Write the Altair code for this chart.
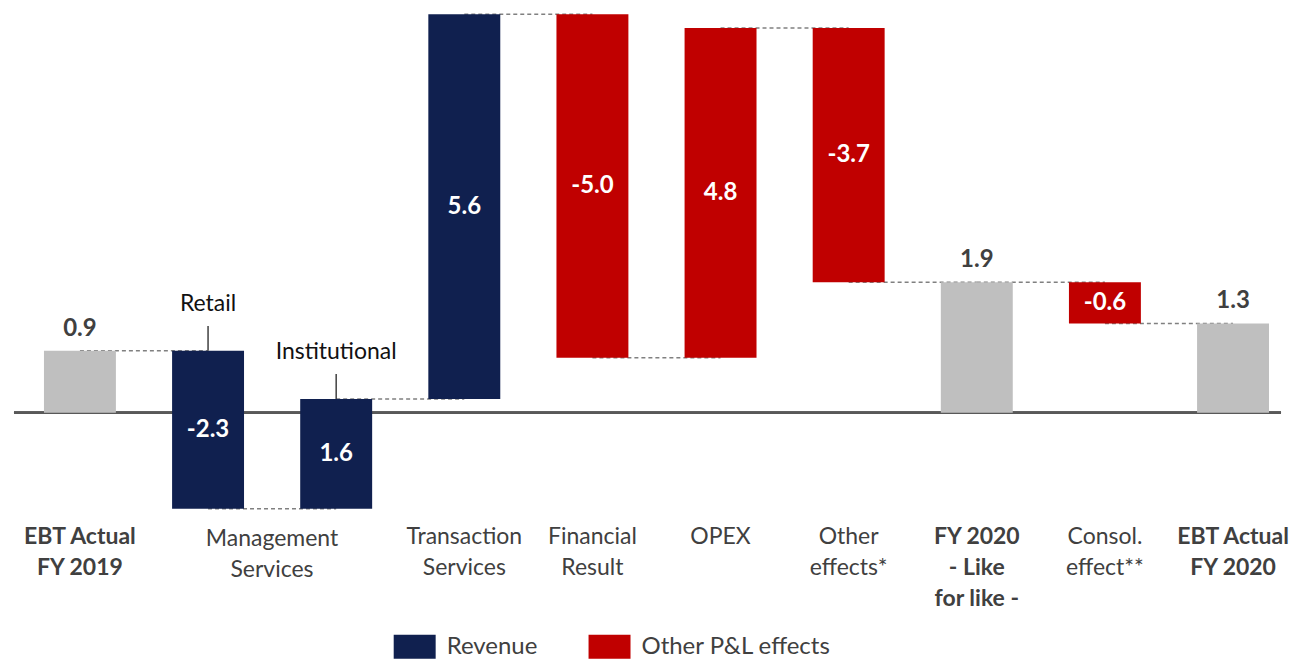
import altair as alt
import pandas as pd

categories = ["EBT Actual FY 2019", "Retail", "Institutional", "Transaction Services",
              "Financial Result", "OPEX", "Other effects*", "FY 2020 - Like for like -",
              "Consol. effect**", "EBT Actual FY 2020"]
values = [0.9, -2.3, 1.6, 5.6, -5.0, 4.8, -3.7, 1.9, -0.6, 1.3]
groups = ["Total", "Revenue", "Revenue", "Revenue", "Other P&L effects",
          "Other P&L effects", "Other P&L effects", "Total", "Other P&L effects", "Total"]
cat_labels = ["EBT Actual\nFY 2019", "", "", "Transaction\nServices", "Financial\nResult",
              "OPEX", "Other\neffects*", "FY 2020\n- Like\nfor like -", "Consol.\neffect**",
              "EBT Actual\nFY 2020"]
group_label_cat = ["Retail"]
group_label_text = ["Management\nServices"]
annot_cats = ["Retail", "Institutional"]
annot_texts = ["Retail", "Institutional"]
legend_groups = ["Revenue", "Other P&L effects"]
legend_colors = ["#10204F", "#C00000"]
total_color = "#BFBFBF"

FONT = "Lato"

# waterfall table
rows = []
level = 0.0
for c, v, g, t in zip(categories, values, groups, cat_labels):
    if g == "Total":
        s, e = 0.0, v
    else:
        s, e = level, level + v
    level = e
    rows.append(dict(cat=c, value=v, group=g, start=round(s, 3), end=round(e, 3),
                     mid=round((s + e) / 2, 3), top=round(max(s, e), 3),
                     label=f"{v:.1f}", total=bool(g == "Total"), catlabel=t))
df = pd.DataFrame(rows)
ymin = float(df["end"].min())
ymax = float(df[["start", "end"]].max().max())
df["bottom"] = ymin
df["zero"] = 0.0
totals = df[df.total].reset_index(drop=True)
deltas = df[~df.total].reset_index(drop=True)

conn = pd.DataFrame([dict(cat=categories[i], nxt=categories[i + 1], level=float(rows[i]["end"]))
                     for i in range(len(categories) - 1)])

ann = pd.DataFrame(dict(cat=annot_cats, text=annot_texts))
ann["top"] = [float(df.loc[df.cat == c, "top"].iloc[0]) for c in annot_cats]

grp = pd.DataFrame(dict(cat=group_label_cat, text=group_label_text))
grp["bottom"] = ymin

xscale = alt.Scale(domain=categories, paddingInner=0.4385, paddingOuter=0.1638, align=0.714)
yscale = alt.Scale(domain=[ymin, ymax], nice=False, zero=False)

X = alt.X("cat:N", scale=xscale, axis=None)

zero = alt.Chart(df).mark_rule(color="#595959", strokeWidth=2).encode(
    y=alt.Y("zero:Q", scale=yscale, axis=None)
)

connectors = alt.Chart(conn).mark_rule(color="#808080", strokeWidth=1.5, strokeDash=[4, 3]).encode(
    x=X,
    x2="nxt",
    y=alt.Y("level:Q", scale=yscale, axis=None),
)

total_bars = alt.Chart(totals).mark_bar(color=total_color).encode(
    x=X,
    y=alt.Y("start:Q", scale=yscale, axis=None),
    y2="end",
)

delta_bars = alt.Chart(deltas).mark_bar().encode(
    x=X,
    y=alt.Y("start:Q", scale=yscale, axis=None),
    y2="end",
    color=alt.Color(
        "group:N",
        scale=alt.Scale(domain=legend_groups, range=legend_colors),
        legend=alt.Legend(
            orient="none", legendX=388, legendY=620, direction="horizontal", title=None,
            symbolType="M-1.75,-1L1.75,-1L1.75,1L-1.75,1Z", symbolSize=576,
            labelOffset=19, columnPadding=51, labelLimit=400,
            labelFont=FONT, labelFontSize=24, labelColor="#404040",
        ),
    ),
)

delta_labels = alt.Chart(deltas).mark_text(
    font=FONT, fontSize=24, fontWeight="bold", color="white", baseline="middle"
).encode(
    x=X, y=alt.Y("mid:Q", scale=yscale, axis=None), text="label:N"
)

total_labels = alt.Chart(totals).mark_text(
    font=FONT, fontSize=24, fontWeight="bold", color="#404040", baseline="middle", dy=-22
).encode(
    x=X, y=alt.Y("end:Q", scale=yscale, axis=None), text="label:N"
)

cat_normal = alt.Chart(deltas).mark_text(
    font=FONT, fontSize=23, color="#404040", baseline="top", lineBreak="\n",
    lineHeight=31, dy=17
).encode(
    x=X, y=alt.Y("bottom:Q", scale=yscale, axis=None), text="catlabel:N"
)

cat_bold = alt.Chart(totals).mark_text(
    font=FONT, fontSize=23, fontWeight="bold", color="#404040", baseline="top",
    lineBreak="\n", lineHeight=31, dy=17
).encode(
    x=X, y=alt.Y("bottom:Q", scale=yscale, axis=None), text="catlabel:N"
)

grp_text = alt.Chart(grp).mark_text(
    font=FONT, fontSize=23, color="#404040", baseline="top", lineBreak="\n",
    lineHeight=31, dx=64, dy=19
).encode(
    x=X, y=alt.Y("bottom:Q", scale=yscale, axis=None), text="text:N"
)

ann_rules = alt.Chart(ann).mark_rule(color="#404040", strokeWidth=1.5, y2Offset=-25).encode(
    x=X, y=alt.Y("top:Q", scale=yscale, axis=None), y2="top"
)

ann_text = alt.Chart(ann).mark_text(
    font=FONT, fontSize=23, color="#111111", baseline="middle", dy=-47
).encode(
    x=X, y=alt.Y("top:Q", scale=yscale, axis=None), text="text:N"
)

chart = alt.layer(zero, connectors, total_bars, delta_bars, delta_labels, total_labels,
                  cat_normal, cat_bold, grp_text, ann_rules, ann_text).properties(
    width=1268, height=495,
).configure_view(strokeWidth=0)

chart.save("out.html", embed_options={"renderer": "svg", "actions": False})
